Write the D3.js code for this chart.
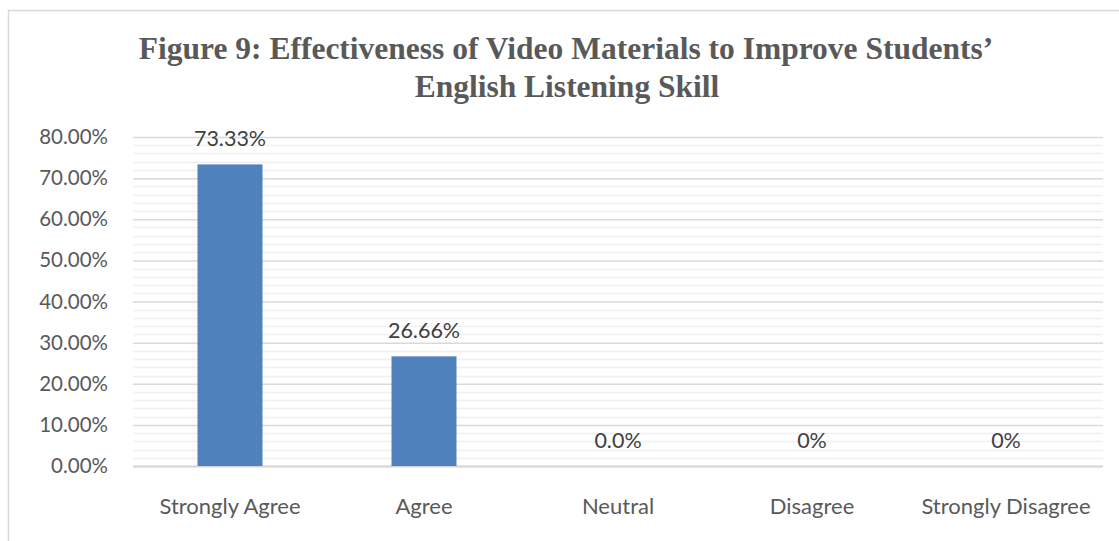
<!DOCTYPE html>
<html>
<head>
<meta charset="utf-8">
<script src="https://cdn.jsdelivr.net/npm/d3@7"></script>
<style>
  html, body { margin: 0; padding: 0; background: #ffffff; }
  svg { display: block; }
</style>
</head>
<body>
<svg id="chart" width="1119" height="541"></svg>
<script>
// Survey responses (share of students, in percent)
const categories = ["Strongly Agree", "Agree", "Neutral", "Disagree", "Strongly Disagree"];
const values = [73.33, 26.66, 0, 0, 0];
const valueLabels = ["73.33%", "26.66%", "0.0%", "0%", "0%"];
const yTicks = [0, 10, 20, 30, 40, 50, 60, 70, 80];
const titleLines = ["Figure 9: Effectiveness of Video Materials to Improve Students\u2019", "English Listening Skill"];

const W = 1119, H = 541;
const margin = { left: 133, right: 16, top: 137, bottom: 75 };
const svg = d3.select("#chart");
const textColor = "#595959";
const sansFont = "Lato, 'Open Sans', sans-serif";

// Chart area frame
svg.append("rect")
  .attr("x", 8.5).attr("y", 10.5)
  .attr("width", W + 20).attr("height", H + 20)
  .attr("fill", "#ffffff")
  .attr("stroke", "#d9d9d9").attr("stroke-width", 1.5);

const x = d3.scaleBand()
  .domain(categories)
  .range([margin.left, W - margin.right])
  .paddingInner(0.665)
  .paddingOuter(0.3325);

const y = d3.scaleLinear()
  .domain([0, 80])
  .range([H - margin.bottom, margin.top]);

// Minor gridlines every 2%
const minorTicks = d3.range(0, 80, 2).filter(v => v % 10 !== 0);
svg.append("g")
  .selectAll("line")
  .data(minorTicks)
  .join("line")
  .attr("x1", margin.left).attr("x2", W - margin.right)
  .attr("y1", d => Math.round(y(d)) + 0.5).attr("y2", d => Math.round(y(d)) + 0.5)
  .attr("stroke", "#f0f0f0").attr("stroke-width", 1.5);

// Major gridlines and y-axis labels
const yAxis = d3.axisLeft(y)
  .tickValues(yTicks)
  .tickSize(-(W - margin.left - margin.right))
  .tickPadding(25)
  .tickFormat(d => d3.format(".2f")(d) + "%");

const gy = svg.append("g")
  .attr("transform", `translate(${margin.left},0)`)
  .call(yAxis);
gy.select(".domain").remove();
gy.selectAll(".tick line")
  .attr("stroke", d => d === 0 ? "#d4d4d4" : "#d9d9d9")
  .attr("stroke-width", d => d === 0 ? 2 : 1.5);
gy.selectAll(".tick text")
  .attr("fill", textColor)
  .style("font-family", sansFont)
  .style("font-size", "20.5px");

// Bars
svg.append("g")
  .selectAll("rect")
  .data(categories.map((c, i) => ({ c, v: values[i] })))
  .join("rect")
  .attr("x", d => x(d.c))
  .attr("width", x.bandwidth())
  .attr("y", d => y(d.v))
  .attr("height", d => y(0) - y(d.v))
  .attr("fill", "#4f81bd");

// Value labels above bars
svg.append("g")
  .selectAll("text")
  .data(categories.map((c, i) => ({ c, v: values[i], t: valueLabels[i] })))
  .join("text")
  .attr("x", d => x(d.c) + x.bandwidth() / 2)
  .attr("y", d => y(d.v) - 18)
  .attr("text-anchor", "middle")
  .attr("fill", "#404040")
  .style("font-family", sansFont)
  .style("font-size", "21.5px")
  .text(d => d.t);

// Category axis labels
const xAxis = d3.axisBottom(x).tickSize(0).tickPadding(32);
const gx = svg.append("g")
  .attr("transform", `translate(0,${y(0)})`)
  .call(xAxis);
gx.select(".domain").remove();
gx.selectAll(".tick text")
  .attr("fill", textColor)
  .style("font-family", sansFont)
  .style("font-size", "22px");

// Title
svg.append("text")
  .attr("text-anchor", "middle")
  .attr("fill", textColor)
  .style("font-family", "'Liberation Serif', 'Times New Roman', serif")
  .style("font-weight", "bold")
  .style("font-size", "31.5px")
  .selectAll("tspan")
  .data(titleLines)
  .join("tspan")
  .attr("x", (d, i) => i === 0 ? 566 : 567)
  .attr("y", (d, i) => 59 + i * 38)
  .text(d => d);
</script>
</body>
</html>
